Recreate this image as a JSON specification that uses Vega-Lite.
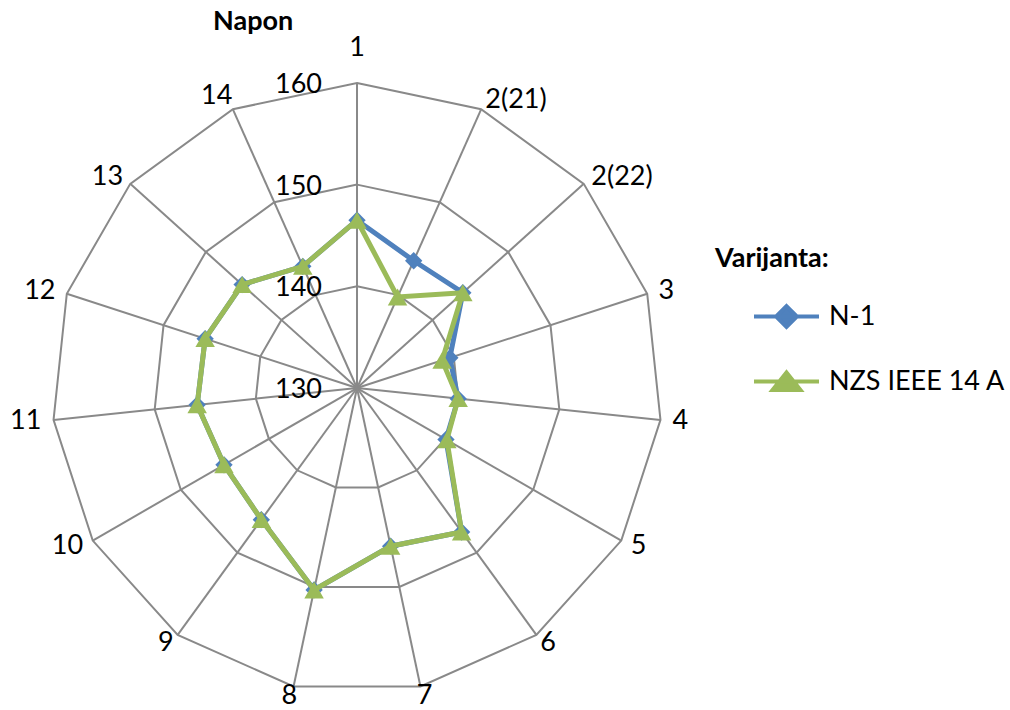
{
  "$schema": "https://vega.github.io/schema/vega-lite/v6.json",
  "width": 1010,
  "height": 670,
  "autosize": "none",
  "padding": {"top": 40, "left": 0, "right": 0, "bottom": 0},
  "background": "white",
  "config": {"view": {"stroke": null}, "font": "Lato"},
  "title": {"text": "Napon", "anchor": "start", "dx": 213, "offset": -15, "baseline": "middle", "fontSize": 27, "fontWeight": "bold", "font": "Lato", "color": "black"},
  "datasets": {
    "cats": [
      {"cat": "1", "i": 0}, {"cat": "2(21)", "i": 1}, {"cat": "2(22)", "i": 2}, {"cat": "3", "i": 3},
      {"cat": "4", "i": 4}, {"cat": "5", "i": 5}, {"cat": "6", "i": 6}, {"cat": "7", "i": 7},
      {"cat": "8", "i": 8}, {"cat": "9", "i": 9}, {"cat": "10", "i": 10}, {"cat": "11", "i": 11},
      {"cat": "12", "i": 12}, {"cat": "13", "i": 13}, {"cat": "14", "i": 14}
    ],
    "ticks": [{"v": 130}, {"v": 140}, {"v": 150}, {"v": 160}],
    "series": [
      {"cat": "1", "i": 0, "series": "N-1", "value": 146.5},
      {"cat": "2(21)", "i": 1, "series": "N-1", "value": 143.7},
      {"cat": "2(22)", "i": 2, "series": "N-1", "value": 144.0},
      {"cat": "3", "i": 3, "series": "N-1", "value": 139.6},
      {"cat": "4", "i": 4, "series": "N-1", "value": 140.0},
      {"cat": "5", "i": 5, "series": "N-1", "value": 140.1},
      {"cat": "6", "i": 6, "series": "N-1", "value": 147.5},
      {"cat": "7", "i": 7, "series": "N-1", "value": 145.9},
      {"cat": "8", "i": 8, "series": "N-1", "value": 150.3},
      {"cat": "9", "i": 9, "series": "N-1", "value": 146.0},
      {"cat": "10", "i": 10, "series": "N-1", "value": 145.1},
      {"cat": "11", "i": 11, "series": "N-1", "value": 145.8},
      {"cat": "12", "i": 12, "series": "N-1", "value": 145.7},
      {"cat": "13", "i": 13, "series": "N-1", "value": 145.2},
      {"cat": "14", "i": 14, "series": "N-1", "value": 143.1},
      {"cat": "1", "i": 0, "series": "NZS IEEE 14 A", "value": 146.5},
      {"cat": "2(21)", "i": 1, "series": "NZS IEEE 14 A", "value": 139.8},
      {"cat": "2(22)", "i": 2, "series": "NZS IEEE 14 A", "value": 144.0},
      {"cat": "3", "i": 3, "series": "NZS IEEE 14 A", "value": 138.8},
      {"cat": "4", "i": 4, "series": "NZS IEEE 14 A", "value": 140.0},
      {"cat": "5", "i": 5, "series": "NZS IEEE 14 A", "value": 140.2},
      {"cat": "6", "i": 6, "series": "NZS IEEE 14 A", "value": 147.5},
      {"cat": "7", "i": 7, "series": "NZS IEEE 14 A", "value": 145.9},
      {"cat": "8", "i": 8, "series": "NZS IEEE 14 A", "value": 150.3},
      {"cat": "9", "i": 9, "series": "NZS IEEE 14 A", "value": 146.0},
      {"cat": "10", "i": 10, "series": "NZS IEEE 14 A", "value": 145.1},
      {"cat": "11", "i": 11, "series": "NZS IEEE 14 A", "value": 145.8},
      {"cat": "12", "i": 12, "series": "NZS IEEE 14 A", "value": 145.7},
      {"cat": "13", "i": 13, "series": "NZS IEEE 14 A", "value": 145.2},
      {"cat": "14", "i": 14, "series": "NZS IEEE 14 A", "value": 143.1}
    ]
  },
  "layer": [
    {
      "data": {"name": "cats"},
      "transform": [
        {"calculate": "[10, 20, 30]", "as": "ring"},
        {"flatten": ["ring"]},
        {"calculate": "datum.ring * sin(datum.i * 2 * PI / 15)", "as": "px"},
        {"calculate": "datum.ring * cos(datum.i * 2 * PI / 15)", "as": "py"}
      ],
      "mark": {"type": "line", "interpolate": "linear-closed", "color": "#898989", "strokeWidth": 2},
      "encoding": {
        "x": {"field": "px", "type": "quantitative", "scale": {"domain": [-35.1, 64.2], "nice": false, "zero": false}, "axis": null},
        "y": {"field": "py", "type": "quantitative", "scale": {"domain": [-31.66, 34.22], "nice": false, "zero": false}, "axis": null},
        "detail": {"field": "ring", "type": "nominal"},
        "order": {"field": "i", "type": "quantitative"}
      }
    },
    {
      "data": {"name": "cats"},
      "transform": [
        {"calculate": "30 * sin(datum.i * 2 * PI / 15)", "as": "px"},
        {"calculate": "30 * cos(datum.i * 2 * PI / 15)", "as": "py"}
      ],
      "mark": {"type": "rule", "color": "#898989", "strokeWidth": 2},
      "encoding": {
        "x": {"field": "px", "type": "quantitative"},
        "y": {"field": "py", "type": "quantitative"},
        "x2": {"datum": 0},
        "y2": {"datum": 0}
      }
    },
    {
      "data": {"name": "ticks"},
      "transform": [{"calculate": "datum.v - 130", "as": "py"}, {"calculate": "0", "as": "px"}],
      "mark": {"type": "text", "align": "right", "baseline": "middle", "dx": -35, "dy": 2, "fontSize": 27, "font": "Lato", "color": "black"},
      "encoding": {
        "x": {"field": "px", "type": "quantitative"},
        "y": {"field": "py", "type": "quantitative"},
        "text": {"field": "v", "type": "quantitative"}
      }
    },
    {
      "data": {"name": "cats"},
      "transform": [
        {"filter": "datum.i != 1 && datum.i != 2"},
        {"calculate": "sin(datum.i * 2 * PI / 15)", "as": "s"},
        {"calculate": "cos(datum.i * 2 * PI / 15)", "as": "c"},
        {"calculate": "30 * datum.s + (20 * datum.s + (datum.s > 0.3 ? 1 : datum.s < -0.3 ? -1 : 0) * (length(datum.cat) - 1) * 8) / 10.17", "as": "px"},
        {"calculate": "30 * datum.c + (10 * datum.c + 25 * pow(max(datum.c, 0), 20)) / 10.17", "as": "py"}
      ],
      "mark": {"type": "text", "align": "center", "baseline": "middle", "fontSize": 27, "font": "Lato", "color": "black"},
      "encoding": {
        "x": {"field": "px", "type": "quantitative"},
        "y": {"field": "py", "type": "quantitative"},
        "text": {"field": "cat", "type": "nominal"}
      }
    },
    {
      "data": {"name": "cats"},
      "transform": [
        {"filter": "datum.i == 1 || datum.i == 2"},
        {"calculate": "31 * sin(datum.i * 2 * PI / 15)", "as": "px"},
        {"calculate": "31 * cos(datum.i * 2 * PI / 15)", "as": "py"}
      ],
      "mark": {"type": "text", "align": "left", "baseline": "middle", "fontSize": 27, "font": "Lato", "color": "black"},
      "encoding": {
        "x": {"field": "px", "type": "quantitative"},
        "y": {"field": "py", "type": "quantitative"},
        "text": {"field": "cat", "type": "nominal"}
      }
    },
    {
      "data": {"name": "series"},
      "transform": [
        {"filter": "datum.series == 'N-1'"},
        {"calculate": "(datum.value - 130) * sin(datum.i * 2 * PI / 15)", "as": "px"},
        {"calculate": "(datum.value - 130) * cos(datum.i * 2 * PI / 15)", "as": "py"}
      ],
      "mark": {"type": "line", "interpolate": "linear-closed", "strokeWidth": 5},
      "encoding": {
        "x": {"field": "px", "type": "quantitative"},
        "y": {"field": "py", "type": "quantitative"},
        "order": {"field": "i", "type": "quantitative"},
        "color": {
          "field": "series", "type": "nominal",
          "scale": {"domain": ["N-1", "NZS IEEE 14 A"], "range": ["#4F81BD", "#9BBB59"]},
          "legend": {
            "orient": "none", "legendX": 715, "legendY": 206, "padding": 0,
            "title": "Varijanta:", "titleFontSize": 27, "titleFontWeight": "bold", "titleFont": "Lato", "titleColor": "black", "titlePadding": 9,
            "labelFontSize": 27, "labelFont": "Lato", "labelColor": "black", "labelOffset": 8,
            "symbolSize": 4225, "symbolStrokeWidth": 4, "rowPadding": 12, "labelLimit": 400,
            "encode": {
              "title": {"update": {"dx": {"value": -37}}},
              "symbols": {"update": {
                "shape": {"signal": "datum.value === 'N-1' ? 'M-1,0L1,0M0,-0.32L0.32,0L0,0.32L-0.32,0Z' : 'M-1,0L1,0M0,-0.28L0.43,0.26L-0.43,0.26Z'"},
                "fill": {"signal": "scale('color', datum.value)"},
                "stroke": {"signal": "scale('color', datum.value)"},
                "strokeWidth": {"value": 4},
                "opacity": {"value": 1}
              }}
            }
          }
        }
      }
    },
    {
      "data": {"name": "series"},
      "transform": [
        {"filter": "datum.series == 'N-1'"},
        {"calculate": "(datum.value - 130) * sin(datum.i * 2 * PI / 15)", "as": "px"},
        {"calculate": "(datum.value - 130) * cos(datum.i * 2 * PI / 15)", "as": "py"}
      ],
      "mark": {"type": "point", "shape": "diamond", "filled": true, "size": 300, "color": "#4F81BD", "opacity": 1},
      "encoding": {
        "x": {"field": "px", "type": "quantitative"},
        "y": {"field": "py", "type": "quantitative"}
      }
    },
    {
      "data": {"name": "series"},
      "transform": [
        {"filter": "datum.series == 'NZS IEEE 14 A'"},
        {"calculate": "(datum.value - 130) * sin(datum.i * 2 * PI / 15)", "as": "px"},
        {"calculate": "(datum.value - 130) * cos(datum.i * 2 * PI / 15)", "as": "py"}
      ],
      "mark": {"type": "line", "interpolate": "linear-closed", "strokeWidth": 5},
      "encoding": {
        "x": {"field": "px", "type": "quantitative"},
        "y": {"field": "py", "type": "quantitative"},
        "order": {"field": "i", "type": "quantitative"},
        "color": {"field": "series", "type": "nominal"}
      }
    },
    {
      "data": {"name": "series"},
      "transform": [
        {"filter": "datum.series == 'NZS IEEE 14 A'"},
        {"calculate": "(datum.value - 130) * sin(datum.i * 2 * PI / 15)", "as": "px"},
        {"calculate": "(datum.value - 130) * cos(datum.i * 2 * PI / 15)", "as": "py"}
      ],
      "mark": {"type": "point", "shape": "triangle-up", "filled": true, "size": 380, "color": "#9BBB59", "opacity": 1},
      "encoding": {
        "x": {"field": "px", "type": "quantitative"},
        "y": {"field": "py", "type": "quantitative"}
      }
    }
  ]
}
